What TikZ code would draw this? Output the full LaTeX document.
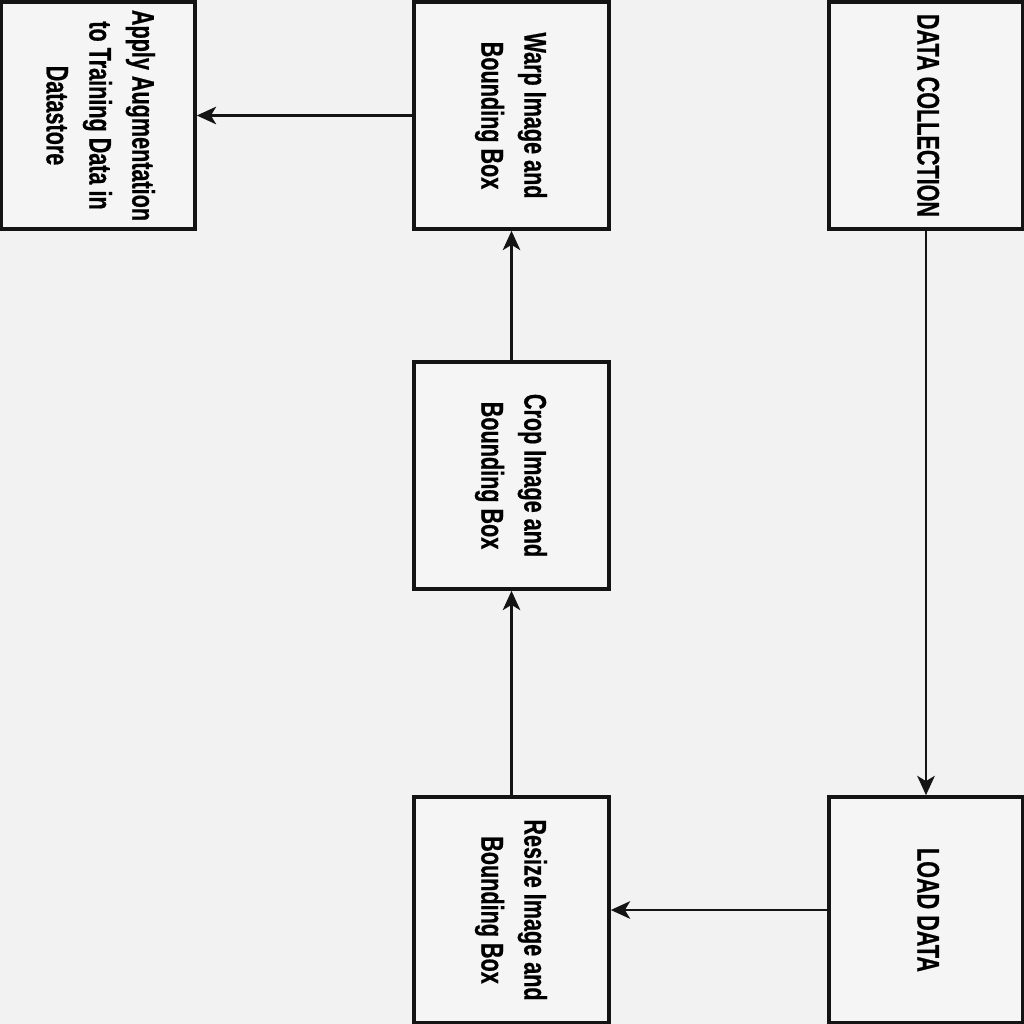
\documentclass[tikz,border=0pt]{standalone}
\usepackage{fontspec}
\setmainfont{Liberation Sans}[FakeStretch=0.69,BoldFeatures={FakeBold=0.6}]
\usetikzlibrary{arrows.meta}
\definecolor{bg}{RGB}{242,242,242}
\definecolor{boxbg}{RGB}{245,245,245}
\definecolor{ln}{RGB}{20,20,20}
\newcommand{\vtext}[1]{\rotatebox{-90}{\begin{tabular}{@{}c@{}}#1\end{tabular}}}
\begin{document}
\begin{tikzpicture}[x=0.01cm,y=-0.01cm,
  box/.style={draw=ln,line width=1pt,fill=boxbg,inner sep=0pt,
    font=\fontsize{8.9pt}{12.2pt}\selectfont\bfseries},
  conn/.style={draw=ln,line width=0.65pt,-{Stealth[length=5.5pt,width=5pt,inset=1.5pt]}}]
\useasboundingbox (0,0) rectangle (1024,1024);
\fill[bg] (0,0) rectangle (1024,1024);
\node[box,minimum width=1.94cm,minimum height=2.27cm] (apply) at (98,115.5) {\vtext{Apply Augmentation\\to Training Data in\\Datastore}};
\node[box,minimum width=1.95cm,minimum height=2.27cm] (warp) at (511.5,115.5) {\vtext{Warp Image and\\Bounding Box}};
\node[box,minimum width=1.94cm,minimum height=2.27cm] (dc) at (926,115.5) {\vtext{DATA COLLECTION}};
\node[box,minimum width=1.95cm,minimum height=2.27cm] (crop) at (511.5,475.5) {\vtext{Crop Image and\\Bounding Box}};
\node[box,minimum width=1.95cm,minimum height=2.26cm] (resize) at (511.5,910) {\vtext{Resize Image and\\Bounding Box}};
\node[box,minimum width=1.94cm,minimum height=2.26cm] (load) at (926,910) {\vtext{LOAD DATA}};
\draw[conn] (dc) -- (load);
\draw[conn] (load) -- (resize);
\draw[conn] (resize) -- (crop);
\draw[conn] (crop) -- (warp);
\draw[conn] (warp) -- (apply);
\end{tikzpicture}
\end{document}
